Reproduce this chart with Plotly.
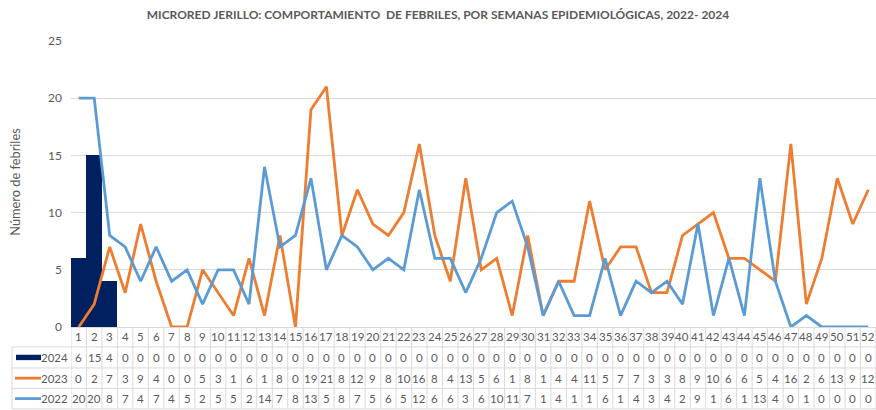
import plotly.graph_objects as go

weeks = list(range(1, 53))
y2024 = [6, 15, 4] + [0] * 49
y2023 = [0, 2, 7, 3, 9, 4, 0, 0, 5, 3, 1, 6, 1, 8, 0,
         19, 21, 8, 12, 9, 8, 10, 16, 8, 4, 13, 5, 6, 1, 8, 1, 4, 4,
         11, 5, 7, 7, 3, 3, 8, 9, 10, 6, 6, 5, 4, 16, 2, 6, 13, 9, 12]
y2022 = [20, 20, 8, 7, 4, 7, 4, 5, 2, 5, 5, 2, 14, 7, 8,
         13, 5, 8, 7, 5, 6, 5, 12, 6, 6, 3, 6, 10, 11, 7, 1, 4, 1,
         1, 6, 1, 4, 3, 4, 2, 9, 1, 6, 1, 13, 4, 0, 1, 0, 0, 0, 0]
series_names = ["2024", "2023", "2022"]
title_text = "MICRORED JERILLO: COMPORTAMIENTO  DE FEBRILES, POR SEMANAS EPIDEMIOLÓGICAS, 2022- 2024"
ytitle = "Número de febriles"

C_NAVY = "#002060"
C_ORANGE = "#ED7D31"
C_BLUE = "#5B9BD5"
C_TEXT = "#595959"
C_GRID = "#D9D9D9"
FONT = "Lato"

W, H = 876, 410
L, R, T, B = 71, 0, 41, 82.5
PW = W - L - R
PH = H - T - B


def px2x(px):
    return (px - L) / PW


def py2y(py):
    return (H - B - py) / PH


fig = go.Figure()
fig.add_trace(go.Bar(x=weeks, y=y2024, name=series_names[0], marker=dict(color=C_NAVY, line=dict(width=0)), width=1))
fig.add_trace(go.Scatter(x=weeks, y=y2023, name=series_names[1], mode="lines",
                         line=dict(color=C_ORANGE, width=2.8), cliponaxis=False))
fig.add_trace(go.Scatter(x=weeks, y=y2022, name=series_names[2], mode="lines",
                         line=dict(color=C_BLUE, width=2.8), cliponaxis=False))

shapes = []
annotations = []

# table geometry (pixels)
row_edges = [327.5, 347.5, 368.5, 389, 409.5]
left_px = 12
for ry in row_edges[1:]:
    shapes.append(dict(type="line", xref="paper", yref="paper",
                       x0=px2x(left_px), x1=1, y0=py2y(ry), y1=py2y(ry),
                       line=dict(color=C_GRID, width=1)))
shapes.append(dict(type="line", xref="paper", yref="paper",
                   x0=px2x(left_px), x1=px2x(left_px), y0=py2y(row_edges[1]), y1=py2y(row_edges[-1]),
                   line=dict(color=C_GRID, width=1)))
for k in range(0, 53):
    xv = k + 0.5
    shapes.append(dict(type="line", xref="x", yref="paper",
                       x0=xv, x1=xv, y0=py2y(row_edges[0]), y1=py2y(row_edges[-1]),
                       line=dict(color=C_GRID, width=1)))

hy = py2y((row_edges[0] + row_edges[1]) / 2)
for w in weeks:
    annotations.append(dict(x=w, y=hy, xref="x", yref="paper", text=str(w), showarrow=False,
                            font=dict(family=FONT, size=11.5, color=C_TEXT), xanchor="center", yanchor="middle"))

rows = [(series_names[0], y2024, C_NAVY, "bar"), (series_names[1], y2023, C_ORANGE, "line"),
        (series_names[2], y2022, C_BLUE, "line")]
for i, (nm, vals, col, kind) in enumerate(rows):
    cy_px = (row_edges[i + 1] + row_edges[i + 2]) / 2
    cy = py2y(cy_px)
    for w, v in zip(weeks, vals):
        annotations.append(dict(x=w, y=cy, xref="x", yref="paper", text=str(v), showarrow=False,
                                font=dict(family=FONT, size=11.5, color=C_TEXT), xanchor="center", yanchor="middle"))
    annotations.append(dict(x=px2x(70), y=cy, xref="paper", yref="paper", text=nm, showarrow=False,
                            font=dict(family=FONT, size=11.5, color=C_TEXT), xanchor="right", yanchor="middle"))
    if kind == "bar":
        shapes.append(dict(type="rect", xref="paper", yref="paper",
                           x0=px2x(16), x1=px2x(41), y0=py2y(cy_px + 2.7), y1=py2y(cy_px - 2.7),
                           fillcolor=col, line=dict(width=0)))
    else:
        shapes.append(dict(type="line", xref="paper", yref="paper",
                           x0=px2x(15), x1=px2x(41), y0=cy, y1=cy,
                           line=dict(color=col, width=2.8)))

annotations.append(dict(x=px2x(15), y=py2y(182), xref="paper", yref="paper", text=ytitle, textangle=-90,
                        showarrow=False, font=dict(family=FONT, size=12.8, color=C_TEXT),
                        xanchor="center", yanchor="middle"))

fig.update_layout(
    width=W, height=H,
    margin=dict(l=L, r=R, t=T, b=B, autoexpand=False),
    paper_bgcolor="white", plot_bgcolor="white",
    showlegend=False,
    bargap=0,
    title=dict(text="<b>" + title_text + "</b>", x=0.5, xref="container", xanchor="center",
               y=1 - 15 / H, yref="container", yanchor="middle",
               font=dict(family=FONT, size=12, color=C_TEXT)),
    font=dict(family=FONT, size=11, color=C_TEXT),
    xaxis=dict(range=[0.5, 52.5], showticklabels=False, showgrid=False, zeroline=False,
               showline=True, linecolor=C_GRID, linewidth=1, ticks=""),
    yaxis=dict(range=[0, 25], dtick=5, showgrid=True, gridcolor=C_GRID, gridwidth=1,
               zeroline=False, showline=False, ticks="", ticklabelstandoff=8,
               tickfont=dict(family=FONT, size=12, color=C_TEXT)),
    shapes=shapes,
    annotations=annotations,
)

fig.write_html("out.html", config={"displayModeBar": False},
               post_script="document.body.style.margin='0';document.body.style.overflow='hidden';")
